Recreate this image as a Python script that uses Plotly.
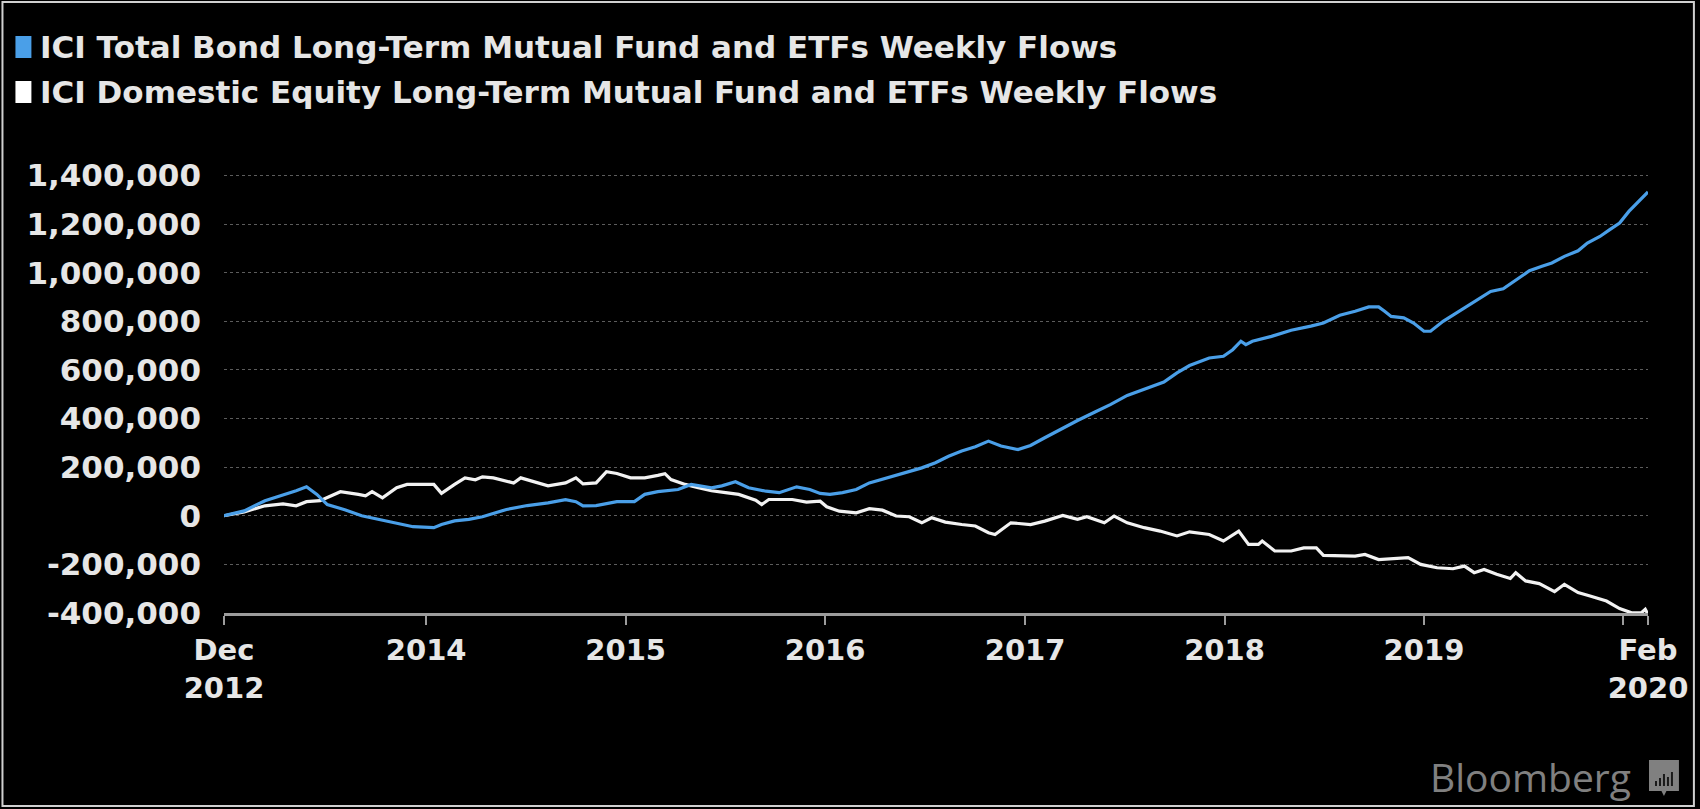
import plotly.graph_objects as go

# ---- series ----
series_names = [
    "ICI Total Bond Long-Term Mutual Fund and ETFs Weekly Flows",
    "ICI Domestic Equity Long-Term Mutual Fund and ETFs Weekly Flows",
]

bond_dates = [
    "2012-12-27", "2013-02-02", "2013-03-12", "2013-04-19", "2013-05-08", "2013-05-27", "2013-06-15",
    "2013-07-04", "2013-08-05", "2013-09-05", "2013-10-07", "2013-11-08", "2013-12-08",
    "2014-01-15", "2014-01-29", "2014-02-22", "2014-03-20", "2014-04-14", "2014-05-28", "2014-07-05",
    "2014-08-12", "2014-09-13", "2014-10-02", "2014-10-15", "2014-11-08", "2014-12-16",
    "2015-01-17", "2015-02-05", "2015-03-01", "2015-04-07", "2015-05-01", "2015-06-07", "2015-06-26",
    "2015-07-21", "2015-08-14", "2015-09-15", "2015-10-09", "2015-11-10", "2015-12-04", "2015-12-23",
    "2016-01-10", "2016-02-02", "2016-02-27", "2016-03-22", "2016-04-22", "2016-05-28", "2016-06-26",
    "2016-07-21", "2016-08-14", "2016-09-07", "2016-10-02", "2016-10-26", "2016-11-18", "2016-12-19",
    "2017-01-11", "2017-02-06", "2017-03-07", "2017-04-07", "2017-05-08", "2017-06-06", "2017-07-07",
    "2017-08-07", "2017-09-12", "2017-10-06", "2017-10-29", "2017-12-04", "2017-12-30",
    "2018-01-16", "2018-01-31", "2018-02-09", "2018-02-21", "2018-03-28", "2018-05-03", "2018-06-08",
    "2018-07-01", "2018-07-31", "2018-08-28", "2018-09-22", "2018-10-10", "2018-10-21", "2018-11-02",
    "2018-11-25", "2018-12-13",
    "2019-01-01", "2019-01-13", "2019-02-05", "2019-03-11", "2019-04-09", "2019-05-03", "2019-05-26",
    "2019-06-18", "2019-07-13", "2019-08-05", "2019-08-23", "2019-09-15", "2019-10-10", "2019-10-27",
    "2019-11-19", "2019-12-07", "2019-12-25",
    "2020-01-11", "2020-01-29", "2020-02-15",
]
bond_values = [
    0, 20000, 62000, 88000, 103000, 119000, 88000, 46000, 25000, 0, -15000, -29000, -45000,
    -49000, -36000, -21000, -15000, -4000, 26000, 42000, 53000, 66000, 58000, 41000, 42000, 58000,
    58000, 88000, 99000, 108000, 129000, 115000, 123000, 140000, 115000, 101000, 95000, 119000, 108000, 92000,
    88000, 95000, 108000, 135000, 156000, 180000, 197000, 218000, 245000, 266000, 284000, 307000, 287000, 272000,
    289000, 321000, 357000, 392000, 426000, 457000, 495000, 519000, 550000, 588000, 618000, 649000, 656000,
    683000, 718000, 704000, 718000, 738000, 763000, 780000, 793000, 825000, 841000, 859000, 859000, 841000,
    820000, 814000, 793000,
    759000, 759000, 800000, 848000, 889000, 923000, 934000, 971000, 1008000, 1026000, 1040000, 1067000,
    1090000, 1122000, 1149000, 1177000, 1204000,
    1252000, 1293000, 1332000,
]

equity_dates = [
    "2012-12-27", "2013-02-02", "2013-03-12", "2013-04-14", "2013-05-08", "2013-05-27", "2013-06-21",
    "2013-07-17", "2013-07-28", "2013-08-30", "2013-09-12", "2013-09-24", "2013-10-13", "2013-11-08", "2013-11-27",
    "2014-01-15", "2014-01-29", "2014-02-22", "2014-03-13", "2014-04-01", "2014-04-14", "2014-05-04",
    "2014-06-10", "2014-06-23", "2014-07-18", "2014-08-12", "2014-09-13", "2014-10-02", "2014-10-15",
    "2014-11-08", "2014-11-27", "2014-12-16",
    "2015-01-10", "2015-02-05", "2015-03-01", "2015-03-14", "2015-03-25", "2015-04-20", "2015-05-14",
    "2015-06-07", "2015-07-03", "2015-07-27", "2015-08-27", "2015-09-07", "2015-09-20", "2015-11-02",
    "2015-11-28", "2015-12-23",
    "2016-01-04", "2016-01-27", "2016-02-27", "2016-03-22", "2016-04-15", "2016-05-10", "2016-06-03",
    "2016-06-26", "2016-07-14", "2016-08-08", "2016-09-07", "2016-10-02", "2016-10-26", "2016-11-07", "2016-12-06",
    "2017-01-11", "2017-02-06", "2017-03-11", "2017-04-07", "2017-04-24", "2017-05-26", "2017-06-13",
    "2017-07-07", "2017-08-07", "2017-09-05", "2017-10-06", "2017-10-29", "2017-12-04", "2017-12-30",
    "2018-01-27", "2018-02-14", "2018-03-04", "2018-03-11", "2018-04-03", "2018-05-03", "2018-05-26",
    "2018-06-18", "2018-07-01", "2018-08-28", "2018-09-15", "2018-10-10", "2018-11-08", "2018-12-03", "2018-12-26",
    "2019-01-25", "2019-02-23", "2019-03-16", "2019-04-03", "2019-04-21", "2019-05-14", "2019-06-08",
    "2019-06-18", "2019-07-06", "2019-07-31", "2019-08-28", "2019-09-15", "2019-10-10", "2019-11-01",
    "2019-12-01", "2019-12-25",
    "2020-01-16", "2020-02-03", "2020-02-10", "2020-02-15",
]
equity_values = [
    0, 16000, 41000, 49000, 41000, 58000, 62000, 88000, 99000, 88000, 82000, 99000, 74000, 115000, 129000,
    129000, 92000, 129000, 156000, 148000, 160000, 156000, 135000, 156000, 140000, 123000, 135000, 156000,
    131000, 135000, 181000, 174000,
    156000, 156000, 166000, 173000, 149000, 129000, 115000, 103000, 95000, 88000, 64000, 46000, 67000,
    67000, 56000, 60000,
    37000, 19000, 12000, 29000, 23000, -1000, -4000, -29000, -8000, -26000, -36000, -42000, -70000, -77000, -29000,
    -36000, -22000, 1000, -15000, -4000, -29000, -1000, -29000, -49000, -63000, -83000, -66000, -77000, -104000,
    -63000, -118000, -118000, -104000, -145000, -145000, -132000, -132000, -163000, -166000, -159000,
    -180000, -177000, -172000, -200000,
    -214000, -218000, -207000, -234000, -221000, -241000, -258000, -234000, -268000, -279000, -312000,
    -282000, -316000, -330000, -351000, -382000,
    -399000, -399000, -385000, -405000,
]

# ---- axes ----
x_tick_dates = ["2012-12-27", "2014-01-01", "2015-01-01", "2016-01-01", "2017-01-01",
                "2018-01-01", "2019-01-01", "2020-01-01", "2020-02-15"]
x_tick_text = ["Dec<br>2012", "2014", "2015", "2016", "2017", "2018", "2019", "", "Feb<br>2020"]
y_tick_values = [-400000, -200000, 0, 200000, 400000, 600000, 800000, 1000000, 1200000, 1400000]
y_tick_text = ["-400,000", "-200,000", "0", "200,000", "400,000", "600,000",
               "800,000", "1,000,000", "1,200,000", "1,400,000"]

BOND_BLUE = "#4a9fe8"
EQUITY_WHITE = "#f2f2f2"
TEXT = "#e6e6e6"
FONT = "DejaVu Sans"

W, H = 1700, 809
L, R, T, B = 224, 49, 173, 196
PW, PH = W - L - R, H - T - B


def fx(px):
    """figure pixel column -> paper x"""
    return (px - L) / PW


def fy(py):
    """figure pixel row -> paper y"""
    return (H - B - py) / PH


fig = go.Figure()
fig.add_trace(go.Scatter(x=equity_dates, y=equity_values, mode="lines", name=series_names[1],
                         line=dict(color=EQUITY_WHITE, width=3.2)))
fig.add_trace(go.Scatter(x=bond_dates, y=bond_values, mode="lines", name=series_names[0],
                         line=dict(color=BOND_BLUE, width=3.2)))

shapes = []
annotations = []

# legend swatches and labels
for i, (name, col) in enumerate(zip(series_names, [BOND_BLUE, "#ffffff"])):
    cy = 47 + 45 * i
    shapes.append(dict(type="rect", xref="paper", yref="paper",
                       x0=fx(15), x1=fx(31), y0=fy(cy + 11), y1=fy(cy - 11),
                       fillcolor=col, line=dict(width=0)))
    annotations.append(dict(text=name, xref="paper", yref="paper", x=fx(38), y=fy(cy),
                            xanchor="left", yanchor="middle", showarrow=False,
                            font=dict(family=FONT, size=31, color=TEXT, weight="bold")))

# Bloomberg mark
annotations.append(dict(text="Bloomberg", xref="paper", yref="paper", x=fx(1636), y=fy(776),
                        xanchor="right", yanchor="middle", showarrow=False,
                        font=dict(family="Open Sans", size=39, color="#808080")))
shapes.append(dict(type="rect", xref="paper", yref="paper",
                   x0=fx(1652), x1=fx(1682), y0=fy(791), y1=fy(760),
                   fillcolor="#808080", line=dict(width=0)))
shapes.append(dict(type="path", xref="paper", yref="paper",
                   path=f"M {fx(1664)},{fy(790)} L {fx(1667)},{fy(796)} L {fx(1670)},{fy(790)} Z",
                   fillcolor="#808080", line=dict(width=0)))
for bx, top in [(1658, 781), (1662, 778), (1666, 774), (1670, 777), (1674, 772)]:
    shapes.append(dict(type="rect", xref="paper", yref="paper",
                       x0=fx(bx), x1=fx(bx + 2), y0=fy(786), y1=fy(top),
                       fillcolor="#1a1a1a", line=dict(width=0)))

# thin frame around the graphic
shapes.append(dict(type="rect", xref="paper", yref="paper",
                   x0=fx(2), x1=fx(W - 3), y0=fy(H - 3), y1=fy(2),
                   line=dict(color="#d0d0d0", width=2)))

fig.update_layout(
    width=W, height=H,
    margin=dict(l=L, r=R, t=T, b=B, pad=0),
    paper_bgcolor="#000000", plot_bgcolor="#000000",
    showlegend=False,
    shapes=shapes, annotations=annotations,
    xaxis=dict(
        type="date", range=["2012-12-27", "2020-02-15"],
        tickmode="array", tickvals=x_tick_dates, ticktext=x_tick_text,
        showgrid=False, zeroline=False,
        showline=True, linecolor="#9c9c9c", linewidth=3,
        ticks="outside", ticklen=9, tickwidth=2, tickcolor="#9c9c9c",
        tickfont=dict(family=FONT, size=29, color=TEXT, weight="bold"),
    ),
    yaxis=dict(
        range=[-400000, 1410000],
        tickmode="array", tickvals=y_tick_values, ticktext=y_tick_text,
        showgrid=True, gridcolor="#5c5c5c", gridwidth=1, griddash="dot",
        zeroline=False, showline=False, ticks="",
        ticklabelstandoff=22,
        tickfont=dict(family=FONT, size=31, color=TEXT, weight="bold"),
    ),
)

fig.write_html("out.html")
